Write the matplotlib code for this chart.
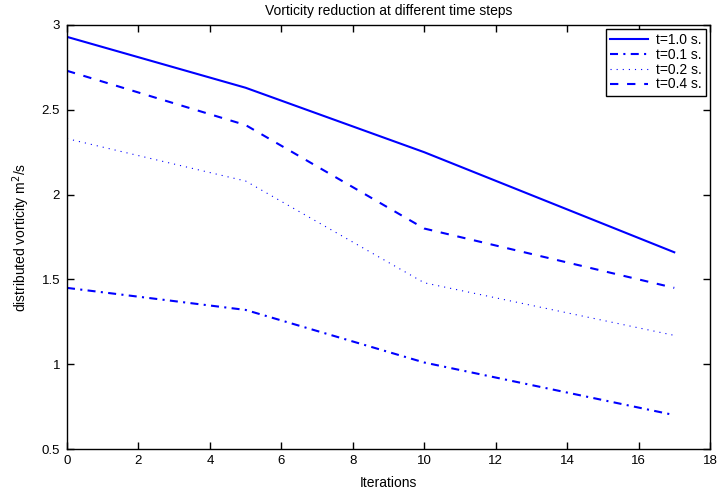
import numpy as np
import matplotlib
matplotlib.use('Agg')
import matplotlib.pyplot as plt

plt.rcParams['font.family'] = ['Liberation Sans', 'DejaVu Sans']
plt.rcParams['font.size'] = 9.5

iterations = [0, 5, 10, 17]
t10 = [2.93, 2.63, 2.25, 1.66]
t01 = [1.45, 1.32, 1.01, 0.70]
t02 = [2.33, 2.08, 1.48, 1.17]
t04 = [2.73, 2.41, 1.80, 1.45]

fig = plt.figure(figsize=(7.17, 4.93), dpi=100)
# axes box: x 67..710 px, y 25..449 px
ax = fig.add_axes([67 / 717, 1 - 449 / 493, 643 / 717, 424 / 493])

blue = '#0000ff'
ax.plot(iterations, t10, color=blue, lw=1.5, ls='-', label='t=1.0 s.')
ax.plot(iterations, t01, color=blue, lw=1.5, ls=(0, (3.85, 2.55, 1, 2.55)), label='t=0.1 s.')
ax.plot(iterations, t02, color=blue, lw=0.8, ls=(0, (1, 4.5)), label='t=0.2 s.')
ax.plot(iterations, t04, color=blue, lw=1.5, ls=(0, (4, 4.2)), label='t=0.4 s.')

ax.set_xlim(0, 18)
ax.set_ylim(0.5, 3)
ax.set_xticks(np.arange(0, 19, 2))
ax.set_yticks([0.5, 1, 1.5, 2, 2.5, 3])
ax.set_yticklabels(['0.5', '1', '1.5', '2', '2.5', '3'])
ax.tick_params(direction='in', top=True, right=True, length=5, width=1)
ax.tick_params(axis='y', pad=5)
ax.tick_params(axis='x', pad=4)
for s in ax.spines.values():
    s.set_linewidth(1)

ax.set_title('Vorticity reduction at different time steps', fontsize=10, pad=7)
ax.set_xlabel('Iterations', fontsize=10, labelpad=7)
ax.set_ylabel('distributed vorticity m$^2$/s', fontsize=10, labelpad=7)

leg = ax.legend(loc='upper right', fancybox=False, framealpha=1, edgecolor='black',
                fontsize=10, borderaxespad=0.3, handlelength=2.7, handletextpad=0.6,
                labelspacing=0.05, borderpad=0.3)
leg.get_frame().set_linewidth(1)

fig.savefig('out.png', dpi=100)
